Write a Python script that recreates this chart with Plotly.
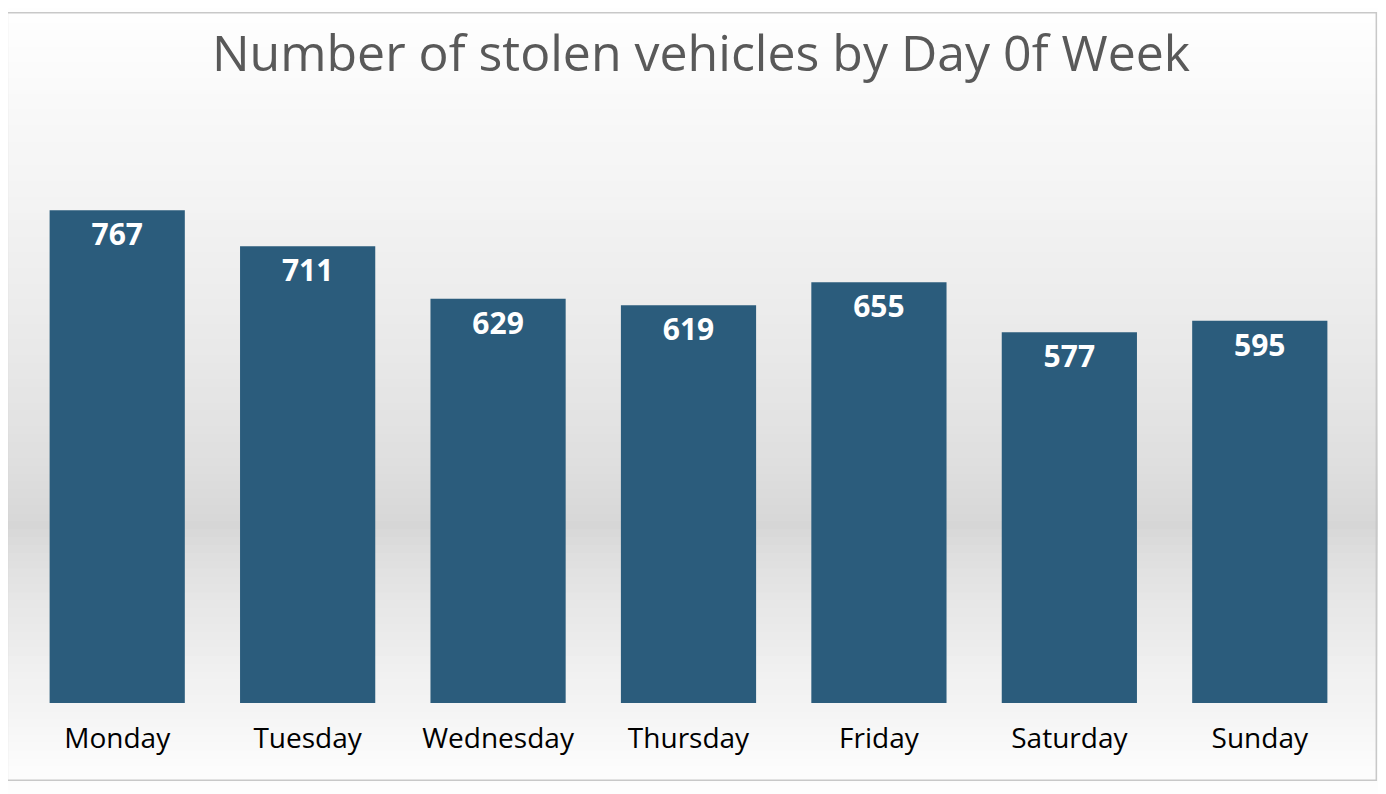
import plotly.graph_objects as go

days = ["Monday", "Tuesday", "Wednesday", "Thursday", "Friday", "Saturday", "Sunday"]
stolen = [767, 711, 629, 619, 655, 577, 595]

fig = go.Figure()
fig.add_trace(go.Bar(
    x=days, y=stolen,
    text=[str(v) for v in stolen],
    textposition="inside", insidetextanchor="end",
    textfont=dict(family="Open Sans", size=30, color="white", weight="bold"),
    marker=dict(color="#2b5c7c", line_width=0),
    cliponaxis=False,
))

# background gradient: white -> grey band -> white, in paper coords of the plot area
shapes = []
lo, hi, mid = -0.16, 1.17, 0.30
n = 100
for i in range(n):
    y0 = lo + (hi - lo) * i / n
    y1 = lo + (hi - lo) * (i + 1) / n
    m = (y0 + y1) / 2
    t = min((m - mid) / (hi - mid), 1) if m > mid else min((mid - m) / (mid - lo), 1)
    g = int(214 + (255 - 214) * t ** 0.7)
    shapes.append(dict(type="rect", xref="paper", yref="paper", x0=-0.02, x1=1.02,
                       y0=y0, y1=y1 + 0.002, layer="below", line_width=0,
                       fillcolor=f"rgb({g},{g},{g})"))
shapes.append(dict(type="rect", xref="paper", yref="paper", x0=-0.011, x1=1.016,
                   y0=-0.13, y1=1.16, layer="above", line=dict(color="#c8c8c8", width=1.5)))
fig.update_layout(shapes=shapes)

fig.update_layout(
    width=1386, height=794,
    margin=dict(l=14, r=39, t=100, b=99),
    paper_bgcolor="white", plot_bgcolor="rgba(0,0,0,0)",
    title=dict(text="Number of stolen vehicles by Day 0f Week", x=0.5, y=0.965, yanchor="top",
               font=dict(family="Open Sans", size=50, color="#595959")),
    bargap=0.29,
    showlegend=False,
    xaxis=dict(showgrid=False, showline=False, ticks="",
               tickfont=dict(family="Open Sans", size=28, color="black")),
    yaxis=dict(range=[0, 926], visible=False),
)
fig.update_xaxes(ticklabelstandoff=16)
fig.write_html("out.html")
